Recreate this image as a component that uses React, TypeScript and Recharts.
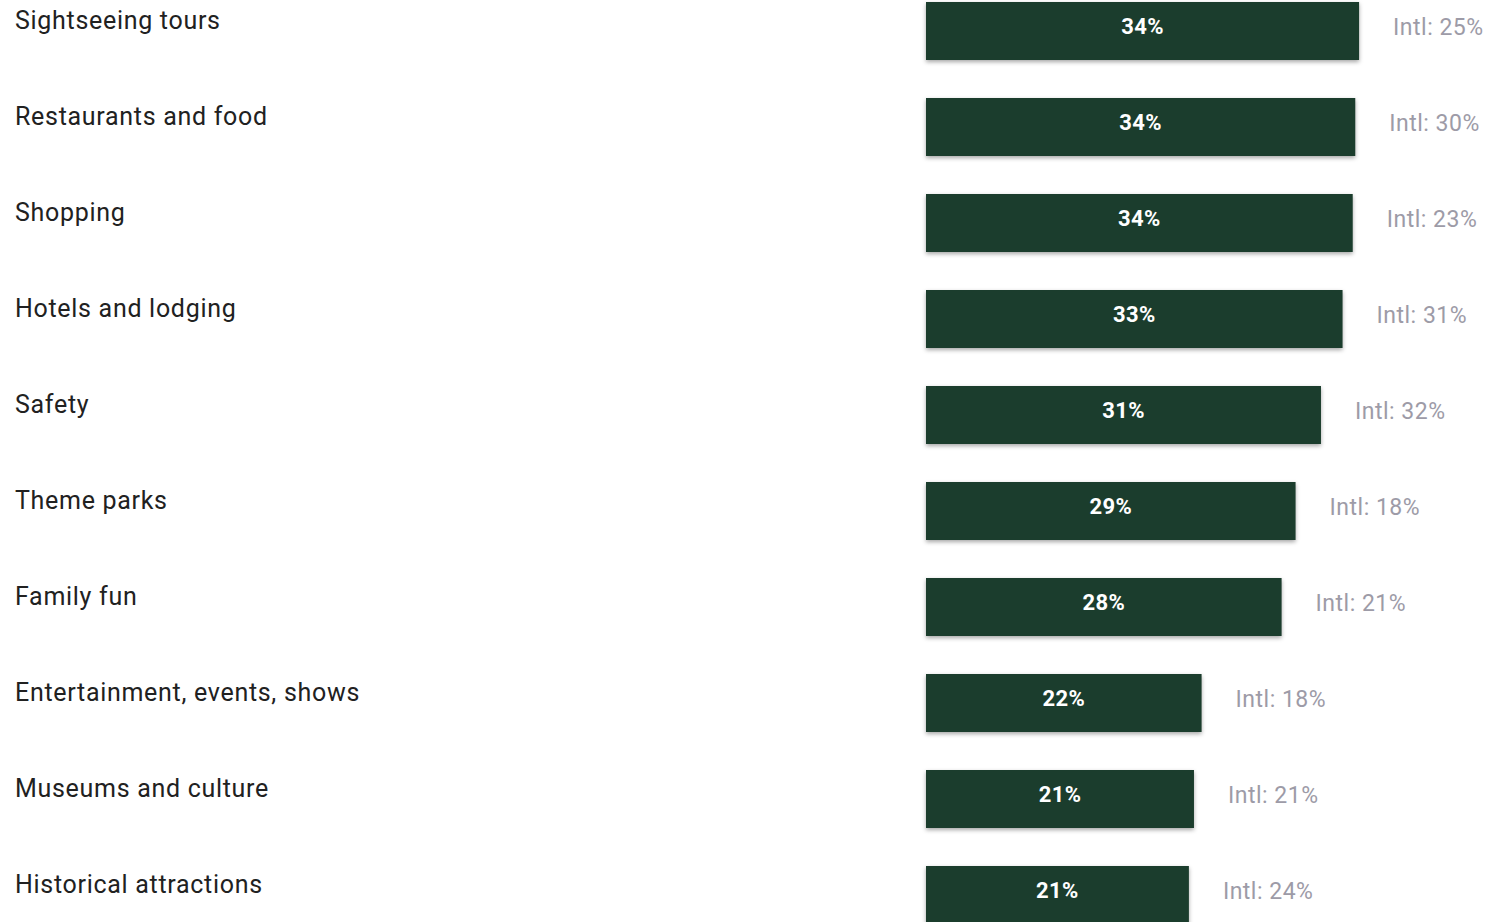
import React from "react";
import { BarChart, Bar, XAxis, YAxis, LabelList } from "recharts";

const categories = [
  "Sightseeing tours",
  "Restaurants and food",
  "Shopping",
  "Hotels and lodging",
  "Safety",
  "Theme parks",
  "Family fun",
  "Entertainment, events, shows",
  "Museums and culture",
  "Historical attractions",
];
const domesticValues = [34.1, 33.8, 33.6, 32.8, 31.1, 29.1, 28.0, 21.7, 21.1, 20.7];
const domesticLabels = ["34%", "34%", "34%", "33%", "31%", "29%", "28%", "22%", "21%", "21%"];
const intlLabels = ["25%", "30%", "23%", "31%", "32%", "18%", "21%", "18%", "21%", "24%"];

const data = categories.map((name, i) => ({
  name,
  value: domesticValues[i],
  label: domesticLabels[i],
  intl: intlLabels[i],
}));

const FONT = "Roboto, 'Noto Sans', sans-serif";

const CategoryTick = (props: any) => {
  const { y, payload } = props;
  return (
    <text
      x={15}
      y={y - 2}
      fill="#212121"
      fontSize={25}
      letterSpacing={0.7}
      fontFamily={FONT}
      textAnchor="start"
    >
      {payload.value}
    </text>
  );
};

const ShadowBar = (props: any) => {
  const { x, y, width, height, fill } = props;
  return (
    <rect
      x={x}
      y={y}
      width={width}
      height={height}
      fill={fill}
      style={{ filter: "drop-shadow(0px 2px 2px rgba(0,0,0,0.35))" }}
    />
  );
};

const ValueLabel = (props: any) => {
  const { x, y, width, height, index } = props;
  return (
    <text
      x={x + width / 2}
      y={y + height / 2 + 3}
      fill="#ffffff"
      fontSize={22}
      fontWeight={700}
      letterSpacing={0.4}
      fontFamily={FONT}
      textAnchor="middle"
    >
      {domesticLabels[index]}
    </text>
  );
};

const IntlLabel = (props: any) => {
  const { x, y, width, height, index } = props;
  return (
    <text
      x={x + width + 34}
      y={y + height / 2 + 4}
      fill="#9d9ba7"
      fontSize={23}
      letterSpacing={0.5}
      fontFamily={FONT}
      textAnchor="start"
    >
      {"Intl: " + intlLabels[index]}
    </text>
  );
};

export default function App() {
  return (
    <div style={{ position: "absolute", left: 0, top: -17, width: 1489, height: 960 }}>
      <BarChart
        width={1489}
        height={960}
        data={data}
        layout="vertical"
        margin={{ top: 0, right: 55, bottom: 0, left: 0 }}
        barCategoryGap={0}
      >
        <XAxis type="number" domain={[0, 40]} hide />
        <YAxis
          type="category"
          dataKey="name"
          width={926}
          axisLine={false}
          tickLine={false}
          tick={<CategoryTick />}
          interval={0}
        />
        <Bar dataKey="value" fill="#1b3d2d" barSize={58} isAnimationActive={false} shape={<ShadowBar />}>
          <LabelList dataKey="label" content={<ValueLabel />} />
          <LabelList dataKey="intl" content={<IntlLabel />} />
        </Bar>
      </BarChart>
    </div>
  );
}
